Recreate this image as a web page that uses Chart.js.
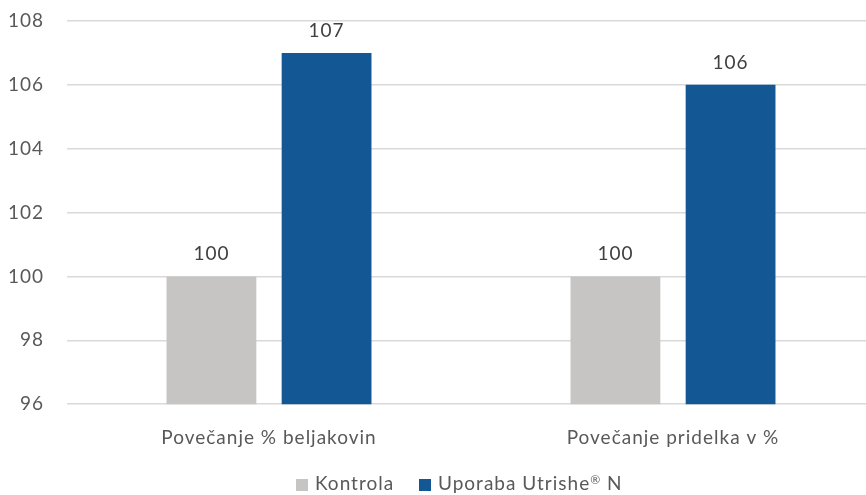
<!DOCTYPE html>
<html>
<head>
<meta charset="utf-8">
<script src="https://cdn.jsdelivr.net/npm/chart.js@4.4.0/dist/chart.umd.min.js"></script>
<style>
  html, body { margin: 0; padding: 0; background: #fff; overflow: hidden; width: 866px; height: 495px; }
  #wrap { position: absolute; left: 0; top: 0; width: 875px; height: 495px; }
  #legend { position: absolute; top: 472px; left: 0; height: 22px; font-family: Lato, sans-serif; font-size: 19px; color: #595959; letter-spacing: 1px; }
  .item { position: absolute; top: 0; white-space: nowrap; line-height: 22px; }
  .sw { display: inline-block; width: 12px; height: 12px; margin-right: 7px; vertical-align: -1px; }
</style>
</head>
<body>
<div id="wrap"><canvas id="c"></canvas></div>
<div id="legend"></div>
<script>
const categories = ["Povečanje % beljakovin", "Povečanje pridelka v %"];
const seriesNames = ["Kontrola", "Uporaba Utrishe® N"];
const kontrola = [100, 100];
const utrishe = [107, 106];
const yTicks = [96, 98, 100, 102, 104, 106, 108];
const colors = ["#c6c5c3", "#135895"];
const SPACING = '1px';
const FONT_SIZE = 19;

const spacingPlugin = {
  id: 'spacing',
  beforeLayout(chart) { chart.ctx.letterSpacing = SPACING; },
  beforeDraw(chart) { chart.ctx.letterSpacing = SPACING; }
};

const valueLabels = {
  id: 'valueLabels',
  afterDatasetsDraw(chart) {
    const ctx = chart.ctx;
    ctx.save();
    ctx.letterSpacing = SPACING;
    ctx.font = FONT_SIZE + 'px Lato, sans-serif';
    ctx.fillStyle = '#404040';
    ctx.textAlign = 'center';
    ctx.textBaseline = 'alphabetic';
    chart.data.datasets.forEach((ds, i) => {
      chart.getDatasetMeta(i).data.forEach((bar, j) => {
        ctx.fillText(String(ds.data[j]), bar.x, bar.y - 16);
      });
    });
    ctx.restore();
  }
};

const canvas = document.getElementById('c');
canvas.width = 875; canvas.height = 495;
new Chart(canvas, {
  type: 'bar',
  data: {
    labels: categories,
    datasets: [
      { label: seriesNames[0], data: kontrola, backgroundColor: colors[0] },
      { label: seriesNames[1], data: utrishe, backgroundColor: colors[1] }
    ]
  },
  options: {
    responsive: false,
    maintainAspectRatio: false,
    animation: false,
    devicePixelRatio: 1,
    layout: { padding: { top: 21, bottom: 24, left: 0, right: 0 } },
    datasets: { bar: { categoryPercentage: 0.57, barPercentage: 0.78 } },
    plugins: { legend: { display: false }, tooltip: { enabled: false } },
    scales: {
      x: {
        grid: { display: false, drawTicks: false },
        border: { display: false },
        ticks: { color: '#595959', font: { family: 'Lato, sans-serif', size: FONT_SIZE }, padding: 22 }
      },
      y: {
        min: yTicks[0], max: yTicks[yTicks.length - 1],
        afterBuildTicks: (s) => { s.ticks = yTicks.map(v => ({ value: v })); },
        afterFit: (s) => { s.width = 67; s.paddingTop = 0; s.paddingBottom = 0; },
        grid: { color: '#d9d9d9', lineWidth: 1.5, drawTicks: false },
        border: { display: false },
        ticks: { color: '#595959', font: { family: 'Lato, sans-serif', size: FONT_SIZE }, padding: 23 }
      }
    }
  },
  plugins: [spacingPlugin, valueLabels]
});

// legend
const legend = document.getElementById('legend');
const lefts = [296, 419];
seriesNames.forEach((n, i) => {
  const d = document.createElement('div');
  d.className = 'item';
  d.style.left = lefts[i] + 'px';
  const sw = document.createElement('span');
  sw.className = 'sw';
  sw.style.background = colors[i];
  d.appendChild(sw);
  if (n.includes('®')) {
    const parts = n.split('®');
    d.appendChild(document.createTextNode(parts[0]));
    const sup = document.createElement('sup');
    sup.textContent = '®';
    sup.style.fontSize = '12px';
    sup.style.verticalAlign = '6px';
    sup.style.lineHeight = '0';
    d.appendChild(sup);
    d.appendChild(document.createTextNode(parts[1]));
  } else {
    d.appendChild(document.createTextNode(n));
  }
  legend.appendChild(d);
});
</script>
</body>
</html>
